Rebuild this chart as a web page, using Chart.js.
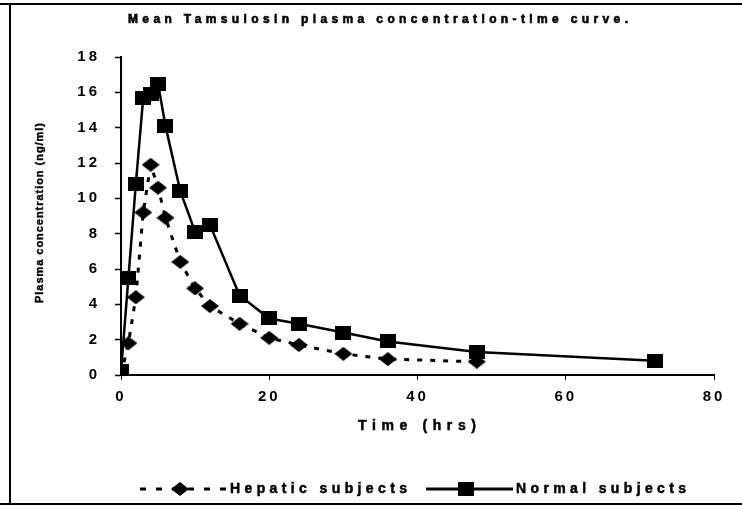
<!DOCTYPE html>
<html>
<head>
<meta charset="utf-8">
<script src="https://cdn.jsdelivr.net/npm/chart.js@4.4.1/dist/chart.umd.min.js"></script>
<style>
  html, body { margin: 0; padding: 0; background: #fff; }
  #wrap { width: 742px; height: 510px; position: relative; }
</style>
</head>
<body>
<div id="wrap"><canvas id="c" width="742" height="510"></canvas></div>
<script>
// Texts
const chartTitle = 'Mean Tamsulosin plasma concentration-time curve.';
const xAxisTitle = 'Time (hrs)';
const yAxisTitle = 'Plasma concentration (ng/ml)';
const seriesNames = ['Hepatic subjects', 'Normal subjects'];

// Sampling times (hours) and mean concentrations (ng/ml)
const hepaticTimes = [0, 1, 2, 3, 4, 5, 6, 8, 10, 12, 16, 20, 24, 30, 36, 48];
const hepaticConc  = [0, 1.8, 4.4, 9.2, 11.9, 10.6, 8.9, 6.4, 4.9, 3.9, 2.9, 2.1, 1.7, 1.2, 0.9, 0.75];
const normalTimes  = [0, 1, 2, 3, 4, 5, 6, 8, 10, 12, 16, 20, 24, 30, 36, 48, 72];
const normalConc   = [0.2, 5.5, 10.8, 15.7, 15.9, 16.5, 14.1, 10.4, 8.1, 8.5, 4.5, 3.2, 2.9, 2.4, 1.9, 1.3, 0.8];

// Axis ticks
const xTicks = [0, 20, 40, 60, 80];
const yTicks = [0, 2, 4, 6, 8, 10, 12, 14, 16, 18];

const FONT = '"Liberation Sans", Arial, sans-serif';

// Marker images
function makeSquare(w, h) {
  const c = document.createElement('canvas');
  c.width = w; c.height = h;
  const g = c.getContext('2d');
  g.fillStyle = '#000';
  g.fillRect(0, 0, w, h);
  return c;
}
function makeDiamond(w, h) {
  const c = document.createElement('canvas');
  c.width = w; c.height = h;
  const g = c.getContext('2d');
  g.fillStyle = '#000';
  g.beginPath();
  g.moveTo(w / 2, 0); g.lineTo(w, h / 2); g.lineTo(w / 2, h); g.lineTo(0, h / 2);
  g.closePath(); g.fill();
  return c;
}
const squareMark = makeSquare(16, 14);
const diamondMark = makeDiamond(18, 14);

function pairs(xs, ys) { return xs.map((x, i) => ({ x: x, y: ys[i] })); }

// Draw heavy text stretched by letter spacing to a target width
function spacedText(ctx, text, x, y, width, align, heavy) {
  ctx.letterSpacing = '0px';
  const natural = ctx.measureText(text).width;
  const sp = Math.max(0, (width - natural) / (text.length - 1));
  ctx.letterSpacing = sp + 'px';
  ctx.textAlign = 'left';
  let start = x;
  if (align === 'center') start = x - width / 2;
  else if (align === 'right') start = x - width;
  ctx.fillText(text, start, y);
  if (heavy) {
    ctx.lineWidth = heavy;
    ctx.setLineDash([]);
    ctx.strokeText(text, start, y);
  }
  ctx.letterSpacing = '0px';
}

const decorations = {
  id: 'decorations',
  beforeDraw(chart) {
    const ctx = chart.ctx;
    ctx.save();
    ctx.fillStyle = '#fff';
    ctx.fillRect(0, 0, chart.width, chart.height);
    ctx.restore();
    // spaced tick labels
    ctx.letterSpacing = '3px';
  },
  beforeDatasetsDraw(chart) {
    chart.ctx.letterSpacing = '0px';
  },
  afterDraw(chart) {
    const ctx = chart.ctx;
    ctx.save();
    ctx.fillStyle = '#000';
    ctx.strokeStyle = '#000';
    ctx.textBaseline = 'middle';

    // frame
    ctx.lineWidth = 2;
    ctx.beginPath();
    ctx.moveTo(0, 4); ctx.lineTo(742, 4);
    ctx.moveTo(10, 4); ctx.lineTo(10, 504);
    ctx.moveTo(0, 504); ctx.lineTo(742, 504);
    ctx.stroke();

    // title
    ctx.font = 'bold 12px ' + FONT;
    spacedText(ctx, chartTitle, 128, 20, 500, 'left', 0.6);

    // x axis title
    ctx.font = 'bold 14px ' + FONT;
    spacedText(ctx, xAxisTitle, 417, 426, 118, 'center', 0.5);

    // y axis title
    ctx.save();
    ctx.translate(40, 213);
    ctx.rotate(-Math.PI / 2);
    ctx.font = 'bold 11px ' + FONT;
    spacedText(ctx, yAxisTitle, 0, 0, 180, 'center', 0.4);
    ctx.restore();

    // legend
    const ly = 489;
    ctx.lineWidth = 3;
    ctx.setLineDash([6, 10]);
    ctx.beginPath(); ctx.moveTo(140, ly); ctx.lineTo(226, ly); ctx.stroke();
    ctx.setLineDash([]);
    ctx.drawImage(diamondMark, 180 - diamondMark.width / 2, ly - diamondMark.height / 2);
    ctx.beginPath(); ctx.moveTo(426, ly); ctx.lineTo(513, ly); ctx.stroke();
    ctx.drawImage(squareMark, 466 - squareMark.width / 2, ly - squareMark.height / 2);
    ctx.font = 'bold 14px ' + FONT;
    spacedText(ctx, seriesNames[0], 230, ly, 177, 'left', 0.5);
    spacedText(ctx, seriesNames[1], 516, ly, 170, 'left', 0.5);
    ctx.restore();
  }
};

new Chart(document.getElementById('c'), {
  type: 'line',
  data: {
    datasets: [
      {
        label: seriesNames[0],
        data: pairs(hepaticTimes, hepaticConc),
        borderColor: '#000',
        backgroundColor: '#000',
        borderWidth: 3,
        borderDash: [5, 8],
        pointStyle: diamondMark,
        tension: 0
      },
      {
        label: seriesNames[1],
        data: pairs(normalTimes, normalConc),
        borderColor: '#000',
        backgroundColor: '#000',
        borderWidth: 2.5,
        pointStyle: squareMark,
        tension: 0
      }
    ]
  },
  options: {
    responsive: false,
    animation: false,
    devicePixelRatio: 1,
    layout: { padding: { left: 0, right: 28, top: 57, bottom: 0 } },
    plugins: { legend: { display: false }, title: { display: false }, tooltip: { enabled: false } },
    scales: {
      x: {
        type: 'linear',
        min: 0, max: 80,
        afterBuildTicks: s => { s.ticks = xTicks.map(v => ({ value: v })); },
        afterFit: s => { s.height = 135; },
        grid: { drawOnChartArea: false, tickLength: 5, color: '#000', tickWidth: 1 },
        border: { color: '#000', width: 2 },
        ticks: { color: '#000', padding: 8, maxRotation: 0, font: { family: FONT, size: 15, weight: 'bold' } }
      },
      y: {
        min: 0, max: 18,
        afterBuildTicks: s => { s.ticks = yTicks.map(v => ({ value: v })); },
        afterFit: s => { s.width = 121; },
        grid: { drawOnChartArea: false, tickLength: 6, color: '#000', tickWidth: 1.5 },
        border: { color: '#000', width: 2 },
        ticks: { color: '#000', padding: 15, font: { family: FONT, size: 15, weight: 'bold' } }
      }
    }
  },
  plugins: [decorations]
});
</script>
</body>
</html>
